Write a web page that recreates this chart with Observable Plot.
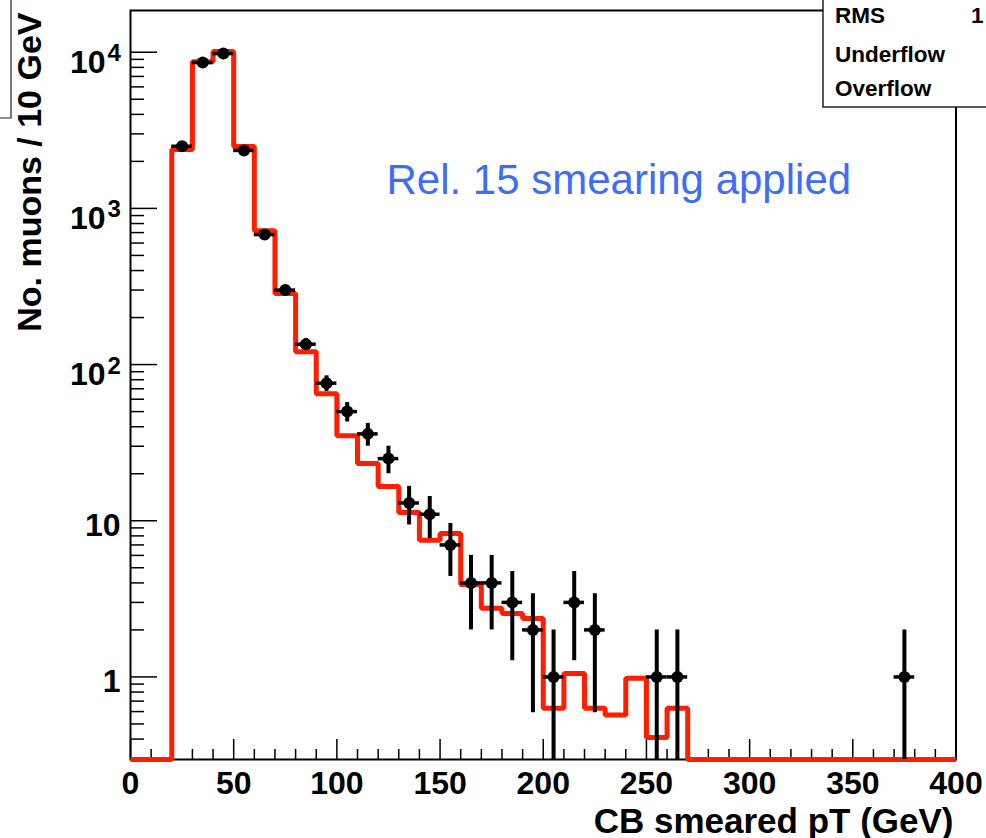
<!DOCTYPE html>
<html><head><meta charset="utf-8">
<script src="https://cdn.jsdelivr.net/npm/d3@7"></script>
<script src="https://cdn.jsdelivr.net/npm/@observablehq/plot@0.6"></script>
<style>html,body{margin:0;padding:0;background:#fff;} #chart{width:986px;height:838px;overflow:hidden;}</style>
</head><body><div id="chart"></div>
<script>
// ---- data ----
const binWidth = 10;
// MC histogram (red), one value per 10 GeV bin from 0 to 400 GeV
const mcValues = [0, 0, 2380, 8700, 10100, 2490, 720, 285, 121, 65,
                  35, 23.3, 16.6, 11.3, 7.5, 8.3, 3.9, 2.75, 2.55, 2.37,
                  0.63, 1.05, 0.63, 0.57, 0.98, 0.41, 0.63, 0, 0, 0,
                  0, 0, 0, 0, 0, 0, 0, 0, 0, 0];
// data points (black)
const dataX   = [25, 35, 45, 55, 65, 75, 85, 95, 105, 115, 125, 135, 145, 155, 165, 175, 185, 195, 205, 215, 225, 255, 265, 375];
const dataN   = [2500, 8600, 9800, 2350, 680, 300, 135, 76, 50, 36, 25, 13, 11, 7, 4, 4, 3, 2, 1, 3, 2, 1, 1, 1];
const dataErr = [50, 93, 99, 48.5, 26, 17.3, 11.6, 8.7, 7.1, 6, 5, 3.6, 3.3, 2.6, 2, 2, 1.73, 1.41, 1, 1.73, 1.41, 1, 1, 1];
// axis ticks
const xMajor = [0, 50, 100, 150, 200, 250, 300, 350, 400];
const xMinor = [10,20,30,40,60,70,80,90,110,120,130,140,160,170,180,190,210,220,230,240,260,270,280,290,310,320,330,340,360,370,380,390];
const yMajor = [1, 10, 100, 1000, 10000];
const yMinor = [0.3,0.4,0.5,0.6,0.7,0.8,0.9, 2,3,4,5,6,7,8,9, 20,30,40,50,60,70,80,90, 200,300,400,500,600,700,800,900, 2000,3000,4000,5000,6000,7000,8000,9000];
const yPlainLabels = [1, 10];
const yPowLabels = [100, 1000, 10000];
const yDomain = [0.296, 18500];

const FONT = "'Liberation Sans', Arial, Helvetica, sans-serif";
const RED = "#ff1e00";
const BLUE = "#3d6ef5";
const yMin = yDomain[0];

const mcTable = mcValues.map((v, i) => ({x: i * binWidth, y: v}))
  .concat([{x: mcValues.length * binWidth, y: mcValues[mcValues.length - 1]}]);
const points = dataX.map((x, i) => ({x, n: dataN[i], err: dataErr[i]}));

const plot = Plot.plot({
  width: 986, height: 838,
  marginLeft: 130, marginRight: 30.5, marginTop: 10, marginBottom: 79,
  style: {fontFamily: FONT, background: "white", color: "black"},
  x: {domain: [0, 400]},
  y: {type: "log", domain: yDomain},
  marks: [
    Plot.frame({stroke: "black", strokeWidth: 2}),
    Plot.axisY({ticks: yMinor, tickSize: 14, dx: 14, tickFormat: () => "", label: null, strokeWidth: 1.5}),
    Plot.axisY({ticks: yMajor, tickSize: 27, dx: 27, tickFormat: () => "", label: null, strokeWidth: 1.5}),
    Plot.axisX({ticks: xMinor, tickSize: 10, dy: -10, tickFormat: () => "", label: null, strokeWidth: 1.5}),
    Plot.axisX({ticks: xMajor, tickSize: 20, dy: -20, tickFormat: () => "", label: null, strokeWidth: 1.5}),
    // tick labels
    Plot.text(xMajor, {x: d => d, text: d => String(d), frameAnchor: "bottom", lineAnchor: "bottom", dy: 34, fontSize: 32, fontWeight: "bold", fill: "black"}),
    Plot.text(yPlainLabels, {y: d => d, text: d => String(d), frameAnchor: "left", textAnchor: "end", lineAnchor: "bottom", dx: -10, dy: 15.5, fontSize: 32, fontWeight: "bold", fill: "black"}),
    Plot.text(yPowLabels, {y: d => d, text: () => "10", frameAnchor: "left", textAnchor: "end", lineAnchor: "bottom", dx: -25, dy: 20.5, fontSize: 32, fontWeight: "bold", fill: "black"}),
    Plot.text(yPowLabels, {y: d => d, text: d => String(Math.round(Math.log10(d))), frameAnchor: "left", textAnchor: "start", lineAnchor: "bottom", dx: -23, dy: 9, fontSize: 24, fontWeight: "bold", fill: "black"}),
    // axis titles
    Plot.text(["No. muons / 10 GeV"], {text: d => d, frameAnchor: "top-left", rotate: -90, textAnchor: "end", lineAnchor: "bottom", dx: -90, dy: 2, fontSize: 34, fontWeight: "bold", fill: "black"}),
    Plot.text(["CB smeared pT (GeV)"], {text: d => d, frameAnchor: "bottom-right", textAnchor: "end", lineAnchor: "bottom", dx: -2.5, dy: 73, fontSize: 35, fontWeight: "bold", fill: "black"}),
    // annotation
    Plot.text(["Rel. 15 smearing applied"], {text: d => d, frameAnchor: "top-left", textAnchor: "start", lineAnchor: "bottom", dx: 256, dy: 183, fontSize: 42, fill: BLUE}),
    // MC histogram
    Plot.line(mcTable, {x: "x", y: d => d.y > 0 ? d.y : yMin, curve: "step-after", stroke: RED, strokeWidth: 5, strokeLinejoin: "miter", strokeLinecap: "butt"}),
    // data with error bars
    Plot.ruleX(points, {x: "x", y1: d => Math.max(d.n - d.err, yMin), y2: d => d.n + d.err, stroke: "black", strokeWidth: 4, clip: true}),
    Plot.ruleY(points, {y: "n", x1: d => d.x - binWidth / 2, x2: d => d.x + binWidth / 2, stroke: "black", strokeWidth: 3.5}),
    Plot.dot(points, {x: "x", y: "n", r: 6, fill: "black", stroke: "none"})
  ]
});

document.getElementById("chart").appendChild(plot);

// stats box (top right, partly outside the picture) and cut-off box at top left
const svg = d3.select(plot);
const g = svg.append("g").attr("font-family", FONT).attr("font-weight", "bold").attr("font-size", 22.5).attr("text-anchor", "start").attr("fill", "black");
g.append("rect").attr("x", 823).attr("y", -2).attr("width", 220).attr("height", 109)
  .attr("fill", "white").attr("stroke", "black").attr("stroke-width", 1.3);
g.append("text").attr("x", 835).attr("y", 23).text("RMS");
g.append("text").attr("x", 971).attr("y", 23).text("1");
g.append("text").attr("x", 835).attr("y", 62).text("Underflow");
g.append("text").attr("x", 835).attr("y", 96).text("Overflow");
svg.append("path").attr("d", "M11,-1V118H-1").attr("fill", "none").attr("stroke", "#222").attr("stroke-width", 1.2);
</script>
</body></html>
